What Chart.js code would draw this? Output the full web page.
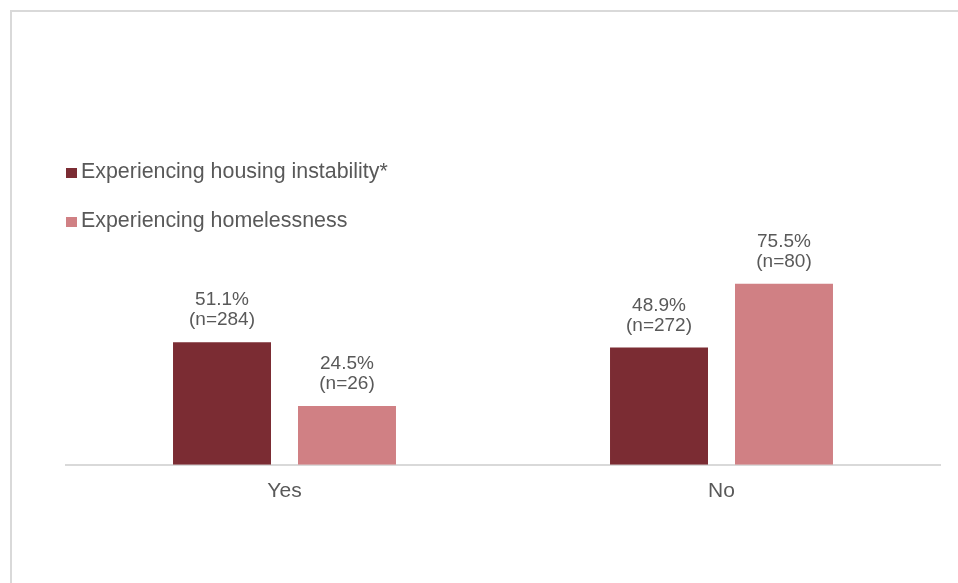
<!DOCTYPE html>
<html>
<head>
<meta charset="utf-8">
<script src="https://cdn.jsdelivr.net/npm/chart.js@4"></script>
<style>
  html, body { margin: 0; padding: 0; background: #fff; overflow: hidden; }
  #wrap { position: relative; width: 958px; height: 583px; }
  #frame { position: absolute; left: 10px; top: 10px; width: 1000px; height: 1000px; border: 2px solid #d9d9d9; box-sizing: border-box; }
  canvas { position: absolute; left: 0; top: 0; }
</style>
</head>
<body>
<div id="wrap">
  <div id="frame"></div>
  <canvas id="chart" width="958" height="583"></canvas>
</div>
<script>
const categories = ['Yes', 'No'];
const seriesNames = ['Experiencing housing instability*', 'Experiencing homelessness'];
const instability = [51.1, 48.9];
const homelessness = [24.5, 75.5];
const instabilityN = [284, 272];
const homelessnessN = [26, 80];

const colors = ['#7b2c33', '#d08084'];
const textGray = '#595959';

Chart.defaults.font.family = "'Liberation Sans', Arial, sans-serif";

// legend stacked on the left, drawn by hand
const stackedLegend = {
  id: 'stackedLegend',
  afterDraw(chart) {
    const ctx = chart.ctx;
    const baselines = [178, 227];
    ctx.save();
    ctx.font = "21.4px 'Liberation Sans', Arial, sans-serif";
    ctx.textBaseline = 'alphabetic';
    ctx.textAlign = 'left';
    chart.data.datasets.forEach((ds, i) => {
      ctx.fillStyle = ds.backgroundColor;
      ctx.fillRect(66, baselines[i] - 10, 11, 10);
      ctx.fillStyle = textGray;
      ctx.fillText(ds.label, 81, baselines[i]);
    });
    ctx.restore();
  }
};

// value + n labels above bars
const barLabels = {
  id: 'barLabels',
  afterDatasetsDraw(chart) {
    const ctx = chart.ctx;
    ctx.save();
    ctx.font = "19px 'Liberation Sans', Arial, sans-serif";
    ctx.fillStyle = textGray;
    ctx.textAlign = 'center';
    ctx.textBaseline = 'alphabetic';
    chart.data.datasets.forEach((ds, di) => {
      const meta = chart.getDatasetMeta(di);
      meta.data.forEach((bar, i) => {
        ctx.fillText(ds.data[i].toFixed(1) + '%', bar.x, bar.y - 37);
        ctx.fillText('(n=' + ds.counts[i] + ')', bar.x, bar.y - 17);
      });
    });
    ctx.restore();
  }
};

new Chart(document.getElementById('chart').getContext('2d'), {
  type: 'bar',
  data: {
    labels: categories,
    datasets: [
      { label: seriesNames[0], data: instability, counts: instabilityN, backgroundColor: colors[0] },
      { label: seriesNames[1], data: homelessness, counts: homelessnessN, backgroundColor: colors[1] }
    ]
  },
  options: {
    responsive: false,
    animation: false,
    layout: { padding: { left: 66, right: 18, top: 225, bottom: 73 } },
    datasets: { bar: { categoryPercentage: 0.572, barPercentage: 0.784 } },
    plugins: {
      legend: { display: false },
      tooltip: { enabled: false }
    },
    scales: {
      x: {
        grid: { display: false },
        border: { display: true, color: '#d9d9d9', width: 2 },
        ticks: { color: textGray, font: { size: 21 }, padding: 6 }
      },
      y: {
        display: false,
        min: 0,
        max: 100
      }
    }
  },
  plugins: [stackedLegend, barLabels]
});
</script>
</body>
</html>
